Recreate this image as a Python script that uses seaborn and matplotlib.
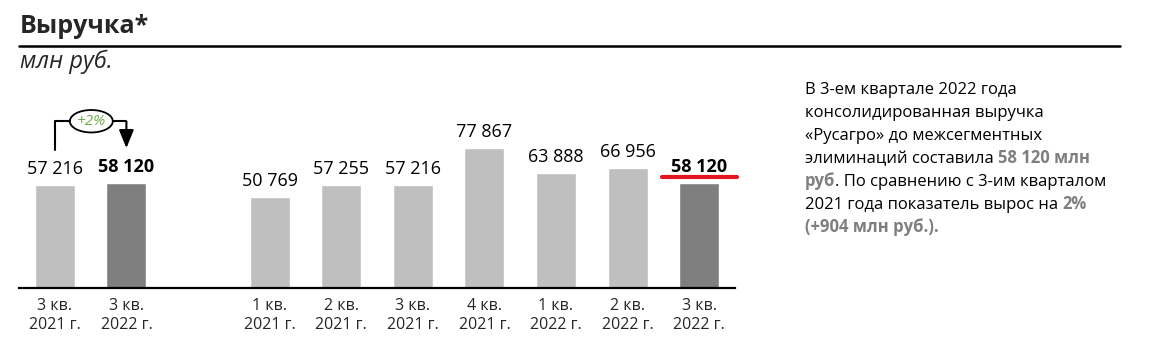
import matplotlib
matplotlib.use("Agg")
import matplotlib.pyplot as plt
from matplotlib.patches import Ellipse
from matplotlib.lines import Line2D
import seaborn as sns
import pandas as pd

# data
compare_labels = ["3 кв.\n2021 г.", "3 кв.\n2022 г."]
compare_values = [57216, 58120]
quarter_labels = ["1 кв.\n2021 г.", "2 кв.\n2021 г.", "3 кв.\n2021 г.", "4 кв.\n2021 г.",
                  "1 кв.\n2022 г.", "2 кв.\n2022 г.", "3 кв.\n2022 г."]
quarter_values = [50769, 57255, 57216, 77867, 63888, 66956, 58120]
growth_label = "+2%"

text_lines = [
    [("В 3-ем квартале 2022 года", False)],
    [("консолидированная выручка", False)],
    [("«Русагро» до межсегментных", False)],
    [("элиминаций составила ", False), ("58 120 млн", True)],
    [("руб", True), (". По сравнению с 3-им кварталом", False)],
    [("2021 года показатель вырос на ", False), ("2%", True)],
    [("(+904 млн руб.).", True)],
]

LIGHT, DARK = "#BFBFBF", "#7F7F7F"

rows = []
for i, (lab, val) in enumerate(zip(compare_labels, compare_values)):
    rows.append(["c%d" % i, lab, val, "current" if i == len(compare_values) - 1 else "previous"])
for i, (lab, val) in enumerate(zip(quarter_labels, quarter_values)):
    rows.append(["q%d" % i, lab, val, "current" if i == len(quarter_values) - 1 else "previous"])
df = pd.DataFrame(rows, columns=["slot", "label", "value", "kind"])
order = ["c0", "c1", "gap"] + ["q%d" % i for i in range(len(quarter_values))]

sns.set_style("white")
plt.rcParams["font.family"] = ["Open Sans", "DejaVu Sans"]

W, H = 1173, 352
fig = plt.figure(figsize=(W / 100, H / 100), dpi=100)
ax = fig.add_axes([19 / W, (H - 288) / H, 716 / W, 188 / H])

sns.barplot(ax=ax, data=df, x="slot", y="value", hue="kind", order=order,
            hue_order=["previous", "current"], palette={"previous": LIGHT, "current": DARK},
            width=0.56, dodge=False, legend=False, saturation=1)

fmt = lambda v: f"{v:,.0f}".replace(",", " ")
ax.bar_label(ax.containers[0], fmt=fmt, padding=5, fontsize=13, color="black")
ax.bar_label(ax.containers[1], fmt=fmt, padding=5, fontsize=13, color="black", fontweight="bold")

ax.set_xlim(-0.5, 9.5)
ax.set_ylim(0, 104500)
tick_labels = compare_labels + [""] + quarter_labels
ax.set_xticks(range(len(order)))
ax.set_xticklabels(tick_labels, fontsize=11.5, linespacing=1.3)
ax.tick_params(axis="x", length=0, pad=7)
ax.set_yticks([])
ax.set_xlabel(""); ax.set_ylabel("")
for s in ["top", "right", "left"]:
    ax.spines[s].set_visible(False)
ax.spines["bottom"].set_color("black")
ax.spines["bottom"].set_linewidth(1.6)

# +2% bracket
top = max(compare_values)
y_low, y_top, y_tip = top * 1.32, top * 1.595, top * 1.338
ell_x, ell_w, ell_h = 0.51, 0.6, top * 0.215
ax.plot([0, 0, ell_x - ell_w / 2], [y_low, y_top, y_top], color="black", lw=1.5, clip_on=False)
ax.plot([ell_x + ell_w / 2, 1], [y_top, y_top], color="black", lw=1.5, clip_on=False,
        solid_capstyle="butt")
ax.add_patch(Ellipse((ell_x, y_top), ell_w, ell_h, facecolor="white", edgecolor="black",
                     lw=1.3, clip_on=False))
ax.text(ell_x, y_top, growth_label, ha="center", va="center", fontsize=11, style="italic",
        color="#70AD47")
ax.annotate("", xy=(1, y_tip), xytext=(1, y_top), annotation_clip=False,
            arrowprops=dict(arrowstyle="-|>,head_length=1.1,head_width=0.45", color="black",
                            lw=1.5, shrinkA=0, shrinkB=0, mutation_scale=10))

# red underline under the last label
last = quarter_values[-1]
ax.plot([9 - 0.517, 9 + 0.53], [last * 1.061, last * 1.061], color="#E3161E", lw=3,
        solid_capstyle="round", clip_on=False)

# title and subtitle
fig.text(20 / W, 1 - 33 / H, "Выручка*", fontsize=18, fontweight="bold", va="baseline")
fig.add_artist(Line2D([19 / W, 1120 / W], [1 - 45.5 / H, 1 - 45.5 / H], color="black", lw=1.8))
fig.text(20 / W, 1 - 68 / H, "млн руб.", fontsize=17, style="italic", va="baseline")

# commentary block
y0 = 94
for k, line in enumerate(text_lines):
    yb = 1 - (y0 + 23 * k) / H
    prev = None
    for seg, bold in line:
        kw = dict(fontsize=12, color=DARK if bold else "black",
                  fontweight="bold" if bold else "normal", ha="left")
        if prev is None:
            prev = fig.text(805 / W, yb, seg, va="baseline", **kw)
        else:
            prev = ax.annotate(seg, xy=(1, 0), xycoords=prev, annotation_clip=False,
                               va="bottom", **kw)

fig.savefig("out.png", dpi=100, facecolor="white")
